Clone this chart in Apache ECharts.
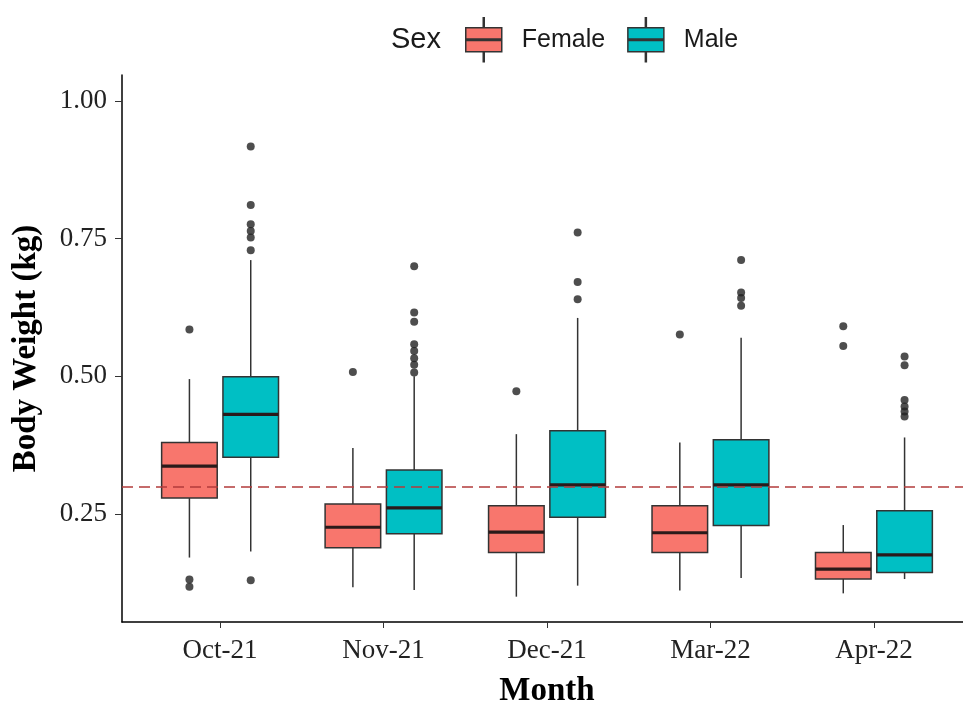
<!DOCTYPE html>
<html>
<head>
<meta charset="utf-8">
<script src="https://cdn.jsdelivr.net/npm/echarts@6/dist/echarts.min.js"></script>
<style>
  html, body { margin: 0; padding: 0; background: #fff; }
  #echarts { width: 963px; height: 704px; }
</style>
</head>
<body>
<div id="echarts"></div>
<script>
// months on the x axis
var months = ['Oct-21', 'Nov-21', 'Dec-21', 'Mar-22', 'Apr-22'];
var yTicks = [0.25, 0.50, 0.75, 1.00];
var refLine = 0.30;

// [min, Q1, median, Q3, max] per month
var femaleStats = [
  [0.171, 0.279, 0.337, 0.380, 0.495],
  [0.117, 0.189, 0.226, 0.268, 0.370],
  [0.100, 0.180, 0.217, 0.265, 0.395],
  [0.111, 0.180, 0.216, 0.265, 0.380],
  [0.106, 0.132, 0.150, 0.180, 0.230]
];
var maleStats = [
  [0.182, 0.353, 0.431, 0.499, 0.711],
  [0.112, 0.214, 0.261, 0.330, 0.500],
  [0.120, 0.244, 0.303, 0.401, 0.606],
  [0.134, 0.229, 0.303, 0.385, 0.570],
  [0.132, 0.144, 0.176, 0.256, 0.389]
];

// outliers: [month index, value]
var femaleOutliers = [
  [0, 0.585], [0, 0.131], [0, 0.118],
  [1, 0.508],
  [2, 0.473],
  [3, 0.576],
  [4, 0.591], [4, 0.555]
];
var maleOutliers = [
  [0, 0.917], [0, 0.811], [0, 0.776], [0, 0.764], [0, 0.752], [0, 0.729], [0, 0.130],
  [1, 0.700], [1, 0.616], [1, 0.599], [1, 0.558], [1, 0.546], [1, 0.533], [1, 0.521], [1, 0.507],
  [2, 0.761], [2, 0.671], [2, 0.640],
  [3, 0.711], [3, 0.652], [3, 0.642], [3, 0.628],
  [4, 0.536], [4, 0.520], [4, 0.457], [4, 0.445], [4, 0.436], [4, 0.427]
];

var dodge = 0.1875;   // half distance between the two boxes, in axis units
var boxW = 0.34;      // box width, in axis units
var serif = 'Liberation Serif';
var sans = 'Liberation Sans';

function boxData(stats, shift) {
  return stats.map(function (s, i) {
    return [i + 1 + shift].concat(s);
  });
}
function dotData(list, shift) {
  return list.map(function (d) { return [d[0] + 1 + shift, d[1]]; });
}

function renderBox(params, api) {
  var x = api.value(0);
  var lo = api.coord([x, api.value(1)]);
  var q1 = api.coord([x, api.value(2)]);
  var md = api.coord([x, api.value(3)]);
  var q3 = api.coord([x, api.value(4)]);
  var hi = api.coord([x, api.value(5)]);
  var w = api.size([boxW, 0])[0];
  var ln = { stroke: '#333', lineWidth: 1.5 };
  return {
    type: 'group',
    children: [
      { type: 'line', shape: { x1: hi[0], y1: hi[1], x2: q3[0], y2: q3[1] }, style: ln },
      { type: 'line', shape: { x1: q1[0], y1: q1[1], x2: lo[0], y2: lo[1] }, style: ln },
      { type: 'rect', shape: { x: q3[0] - w / 2, y: q3[1], width: w, height: q1[1] - q3[1] },
        style: { fill: api.visual('color'), stroke: '#333', lineWidth: 1.5 } },
      { type: 'line', shape: { x1: md[0] - w / 2, y1: md[1], x2: md[0] + w / 2, y2: md[1] },
        style: { stroke: '#2a1a1a', lineWidth: 3.2 } }
    ]
  };
}

var boxIcon = 'path://M2,10H38V34H2Z M2,21.3H38V22.7H2Z M19.5,0H20.5V10H19.5Z M19.5,34H20.5V44H19.5Z';

var myChart = echarts.init(document.getElementById('echarts'));

option = {
  animation: false,
  backgroundColor: '#ffffff',
  title: {
    text: 'Sex',
    left: 386,
    top: 20,
    textStyle: { fontFamily: sans, fontWeight: 'normal', fontSize: 29, color: '#1a1a1a' }
  },
  legend: {
    data: ['Female', 'Male'],
    left: 460,
    top: 12,
    icon: boxIcon,
    itemWidth: 38,
    itemHeight: 44,
    itemGap: 22,
    itemStyle: { borderColor: '#333', borderWidth: 1.5 },
    textStyle: { fontFamily: sans, fontSize: 25, color: '#1a1a1a', padding: [0, 0, 0, 14] }
  },
  grid: { left: 122, right: -9, top: 75, bottom: 82, outerBoundsMode: 'none', containLabel: false },
  xAxis: {
    type: 'value',
    min: 0.4,
    max: 5.6,
    name: 'Month',
    nameLocation: 'middle',
    nameGap: 53,
    nameTextStyle: { fontFamily: serif, fontWeight: 'bold', fontSize: 33, color: '#000' },
    axisLine: { lineStyle: { color: '#000', width: 1.5 } },
    axisTick: { customValues: [1, 2, 3, 4, 5], length: 6, lineStyle: { color: '#333' } },
    axisLabel: {
      customValues: [1, 2, 3, 4, 5],
      formatter: function (v) { return months[Math.round(v) - 1]; },
      fontFamily: serif, fontSize: 27, color: '#222', margin: 15
    },
    splitLine: { show: false }
  },
  yAxis: {
    type: 'value',
    min: 0.054,
    max: 1.047,
    name: 'Body Weight (kg)',
    nameLocation: 'middle',
    nameGap: 79,
    nameTextStyle: { fontFamily: serif, fontWeight: 'bold', fontSize: 33, color: '#000' },
    axisLine: { show: true, lineStyle: { color: '#000', width: 1.5 } },
    axisTick: { show: true, customValues: yTicks, length: 7, lineStyle: { color: '#333' } },
    axisLabel: {
      customValues: yTicks,
      formatter: function (v) { return v.toFixed(2); },
      fontFamily: serif, fontSize: 27, color: '#222', margin: 15
    },
    splitLine: { show: false }
  },
  series: [
    {
      name: 'Female',
      type: 'custom',
      renderItem: renderBox,
      itemStyle: { color: '#F8766D' },
      encode: { x: 0, y: [1, 2, 3, 4, 5] },
      data: boxData(femaleStats, -dodge),
      z: 2
    },
    {
      name: 'Male',
      type: 'custom',
      renderItem: renderBox,
      itemStyle: { color: '#00BFC4' },
      encode: { x: 0, y: [1, 2, 3, 4, 5] },
      data: boxData(maleStats, dodge),
      z: 2,
      markLine: {
        silent: true,
        symbol: 'none',
        label: { show: false },
        lineStyle: { color: '#b23b3b', width: 1.5, type: [11, 6] },
        data: [{ yAxis: refLine }],
        z: 5
      }
    },
    {
      name: 'Female outliers',
      type: 'scatter',
      symbolSize: 8,
      itemStyle: { color: '#222' },
      data: dotData(femaleOutliers, -dodge),
      z: 3
    },
    {
      name: 'Male outliers',
      type: 'scatter',
      symbolSize: 8,
      itemStyle: { color: '#222' },
      data: dotData(maleOutliers, dodge),
      z: 3
    }
  ]
};

myChart.setOption(option);
</script>
</body>
</html>
